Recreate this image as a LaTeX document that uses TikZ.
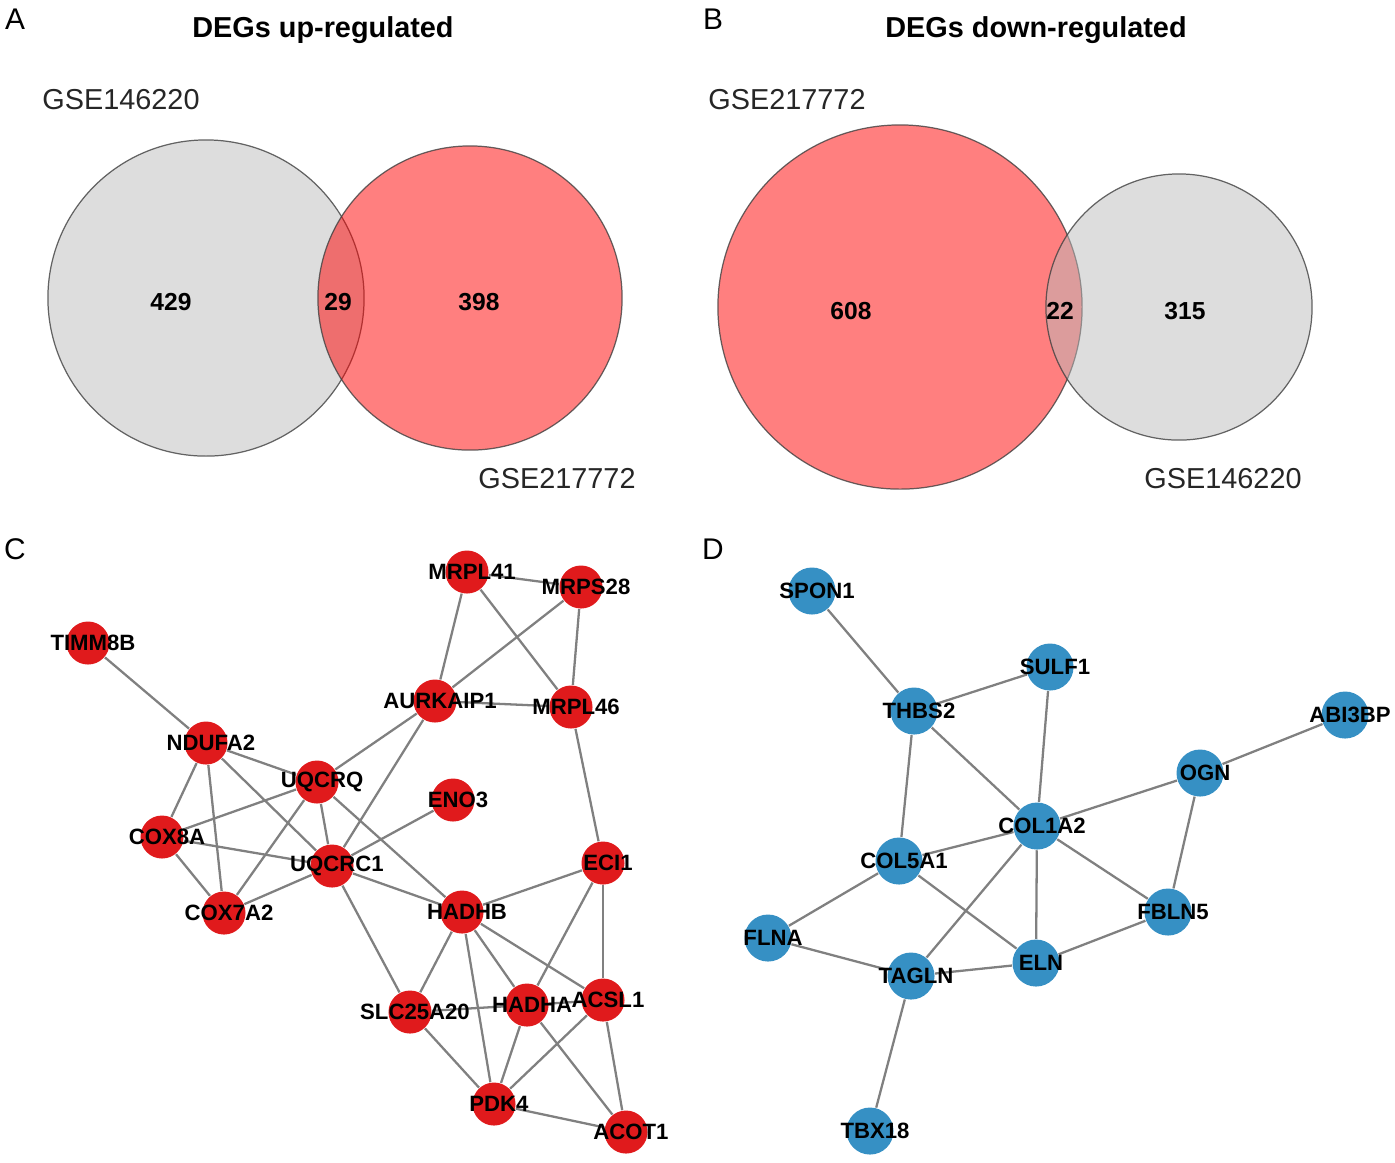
\documentclass[tikz,border=0pt]{standalone}
\usepackage{fontspec}
\setmainfont{Liberation Sans}
\usepackage{tikz}
\usetikzlibrary{backgrounds}
\definecolor{upred}{RGB}{224,26,28}
\definecolor{downblue}{RGB}{54,144,196}
\definecolor{linkgray}{RGB}{128,128,128}
\definecolor{venngray}{RGB}{187,187,187}
\tikzset{
  upnode/.style={circle, fill=upred, minimum size=0.43cm, inner sep=0pt},
  downnode/.style={circle, fill=downblue, minimum size=0.47cm, inner sep=0pt},
  genelabel/.style={font=\bfseries\fontsize{6.3}{7}\selectfont, xshift=0.05cm, inner sep=0pt},
  link/.style={draw=linkgray, line width=0.65pt},
  vennset/.style={circle, draw=black!75, draw opacity=0.8, line width=0.35pt, fill opacity=0.5, inner sep=0pt},
  vennnum/.style={font=\bfseries\fontsize{7}{8}\selectfont},
  vennname/.style={font=\fontsize{8.2}{10}\selectfont, text=black!85},
  panel/.style={font=\fontsize{8.5}{10}\selectfont},
  venntitle/.style={font=\bfseries\fontsize{8.2}{10}\selectfont}
}
\newcommand{\upgene}[2] {\node at (#1) (#2) [upnode] {}; \node at (#2) [genelabel] {#2};}
\newcommand{\downgene}[2] {\node at (#1) (#2) [downnode] {}; \node at (#2) [genelabel] {#2};}
\newcommand{\genelink}[2] {\begin{pgfonlayer}{background}\draw [link] (#1) -- (#2);\end{pgfonlayer}}

\begin{document}
\begin{tikzpicture}[x=0.01cm, y=-0.01cm]
\useasboundingbox (0,0) rectangle (1395,1162);

% A
\node at (15,19) [panel] {A};
\node at (323,30) [venntitle] {DEGs up-regulated};
\node at (206,298) (upold) [vennset, fill=venngray, minimum size=3.16cm] {};
\node at (470,298) (upnew) [vennset, fill=red, minimum size=3.04cm] {};
\node at (121,100) [vennname] {GSE146220};
\node at (557,479) [vennname] {GSE217772};
\node at (171,302) [vennnum] {429};
\node at (338,302) [vennnum] {29};
\node at (479,302) [vennnum] {398};

% B
\node at (713,19) [panel] {B};
\node at (1036,30) [venntitle] {DEGs down-regulated};
\node at (900,307) (downnew) [vennset, fill=red, minimum size=3.64cm] {};
\node at (1179,307) (downold) [vennset, fill=venngray, minimum size=2.66cm] {};
\node at (787,100) [vennname] {GSE217772};
\node at (1223,479) [vennname] {GSE146220};
\node at (851,311) [vennnum] {608};
\node at (1060,311) [vennnum] {22};
\node at (1185,311) [vennnum] {315};

% C
\node at (15,549) [panel] {C};
\upgene {88,643} {TIMM8B};
\upgene {467,572} {MRPL41};
\upgene {581,587} {MRPS28};
\upgene {435,701} {AURKAIP1};
\upgene {571,707} {MRPL46};
\upgene {206,743} {NDUFA2};
\upgene {317,782} {UQCRQ};
\upgene {453,800} {ENO3};
\upgene {162,837} {COX8A};
\upgene {332,866} {UQCRC1};
\upgene {603,863} {ECI1};
\upgene {224,913} {COX7A2};
\upgene {462,912} {HADHB};
\upgene {410,1012} {SLC25A20};
\upgene {527,1005} {HADHA};
\upgene {603,1000} {ACSL1};
\upgene {494,1104} {PDK4};
\upgene {626,1132} {ACOT1};

\genelink{MRPL41}{MRPS28};
\genelink{MRPL41}{AURKAIP1};
\genelink{MRPL41}{MRPL46};
\genelink{MRPS28}{AURKAIP1};
\genelink{MRPS28}{MRPL46};
\genelink{AURKAIP1}{MRPL46};
\genelink{AURKAIP1}{UQCRQ};
\genelink{AURKAIP1}{UQCRC1};
\genelink{TIMM8B}{NDUFA2};
\genelink{NDUFA2}{UQCRQ};
\genelink{NDUFA2}{COX8A};
\genelink{NDUFA2}{COX7A2};
\genelink{NDUFA2}{UQCRC1};
\genelink{UQCRQ}{COX8A};
\genelink{UQCRQ}{COX7A2};
\genelink{UQCRQ}{UQCRC1};
\genelink{UQCRQ}{HADHB};
\genelink{COX8A}{COX7A2};
\genelink{COX8A}{UQCRC1};
\genelink{COX7A2}{UQCRC1};
\genelink{UQCRC1}{ENO3};
\genelink{UQCRC1}{HADHB};
\genelink{UQCRC1}{SLC25A20};
\genelink{MRPL46}{ECI1};
\genelink{ECI1}{HADHB};
\genelink{ECI1}{HADHA};
\genelink{ECI1}{ACSL1};
\genelink{HADHB}{SLC25A20};
\genelink{HADHB}{HADHA};
\genelink{HADHB}{ACSL1};
\genelink{HADHB}{PDK4};
\genelink{SLC25A20}{HADHA};
\genelink{SLC25A20}{PDK4};
\genelink{HADHA}{ACSL1};
\genelink{HADHA}{PDK4};
\genelink{HADHA}{ACOT1};
\genelink{ACSL1}{PDK4};
\genelink{ACSL1}{ACOT1};
\genelink{PDK4}{ACOT1};

% D
\node at (713,549) [panel] {D};
\downgene {812,591} {SPON1};
\downgene {1050,667} {SULF1};
\downgene {914,711} {THBS2};
\downgene {1345,715} {ABI3BP};
\downgene {1200,773} {OGN};
\downgene {1037,826} {COL1A2};
\downgene {899,861} {COL5A1};
\downgene {1168,912} {FBLN5};
\downgene {768,938} {FLNA};
\downgene {1036,963} {ELN};
\downgene {911,976} {TAGLN};
\downgene {870,1131} {TBX18};

\genelink{SPON1}{THBS2};
\genelink{THBS2}{SULF1};
\genelink{THBS2}{COL1A2};
\genelink{THBS2}{COL5A1};
\genelink{SULF1}{COL1A2};
\genelink{ABI3BP}{OGN};
\genelink{OGN}{COL1A2};
\genelink{OGN}{FBLN5};
\genelink{COL1A2}{COL5A1};
\genelink{COL1A2}{FBLN5};
\genelink{COL1A2}{ELN};
\genelink{COL1A2}{TAGLN};
\genelink{COL5A1}{FLNA};
\genelink{COL5A1}{ELN};
\genelink{FLNA}{TAGLN};
\genelink{TAGLN}{ELN};
\genelink{ELN}{FBLN5};
\genelink{TAGLN}{TBX18};

\end{tikzpicture}
\end{document}
